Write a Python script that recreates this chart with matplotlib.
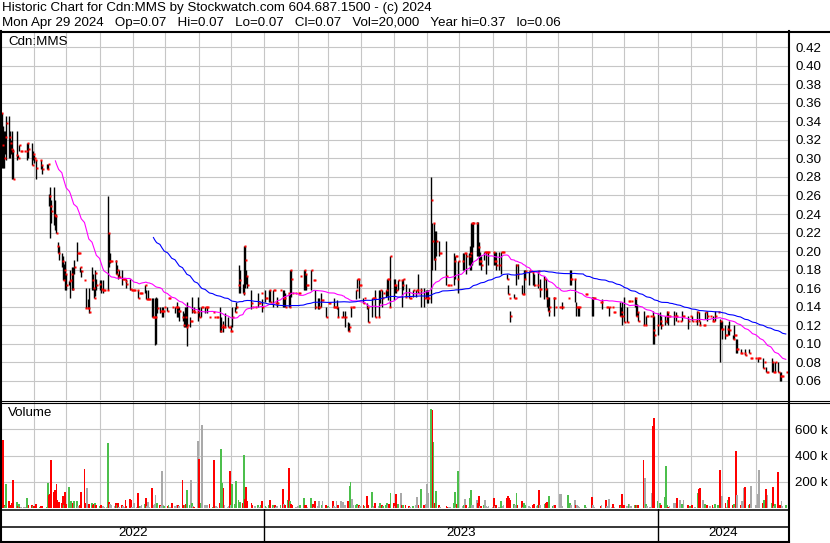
import numpy as np
import pandas as pd
import matplotlib
matplotlib.use('Agg')
import matplotlib.pyplot as plt
import matplotlib.dates as mdates

plt.rcParams['font.family'] = ['Liberation Sans', 'DejaVu Sans']

W, H = 830, 543

# trading days, May 2 2022 .. Apr 29 2024
dates = pd.bdate_range('2022-05-02', periods=521)

# prices in thousandths of a dollar, 0 = no trade
close_m = [
    349, 314, 300, 323, 338, 323, 317, 310, 308, 278,
    304, 300, 314, 308, 308, 308, 0, 308, 317, 310,
    293, 305, 300, 298, 290, 0, 298, 293, 288, 0,
    289, 294, 259, 249, 243, 239, 238, 219, 205, 198,
    189, 169, 180, 175, 163, 168, 169, 175, 159, 183,
    198, 198, 198, 183, 179, 169, 139, 139, 139, 134,
    169, 160, 149, 176, 164, 165, 159, 158, 158, 158,
    158, 219, 189, 189, 189, 189, 175, 180, 172, 172,
    170, 170, 170, 168, 165, 159, 158, 158, 158, 158,
    158, 149, 155, 155, 155, 163, 148, 148, 148, 148,
    129, 129, 129, 129, 139, 135, 135, 135, 135, 140,
    135, 149, 149, 0, 140, 140, 140, 140, 135, 135,
    129, 120, 129, 118, 120, 125, 125, 135, 135, 134,
    134, 129, 0, 140, 140, 140, 140, 140, 0, 129,
    134, 129, 0, 129, 129, 114, 118, 120, 118, 118,
    118, 118, 114, 114, 129, 134, 140, 0, 164, 169,
    155, 205, 190, 173, 164, 0, 144, 140, 0, 140,
    144, 144, 0, 155, 140, 149, 149, 0, 158, 145,
    158, 158, 144, 144, 144, 158, 0, 149, 149, 140,
    155, 140, 180, 170, 155, 155, 0, 155, 155, 173,
    0, 180, 175, 164, 164, 180, 0, 169, 169, 140,
    140, 140, 0, 147, 147, 129, 0, 144, 144, 0,
    140, 140, 140, 140, 129, 129, 0, 129, 0, 129,
    114, 118, 140, 140, 140, 158, 170, 170, 164, 164,
    144, 149, 0, 140, 124, 0, 149, 149, 149, 129,
    129, 158, 0, 149, 155, 158, 170, 170, 140, 195,
    164, 164, 158, 0, 169, 169, 164, 170, 0, 151,
    149, 149, 0, 0, 158, 158, 158, 155, 0, 158,
    149, 0, 149, 149, 149, 255, 211, 230, 191, 211,
    198, 198, 0, 0, 0, 173, 164, 164, 164, 0,
    189, 195, 195, 170, 189, 0, 189, 198, 198, 195,
    195, 198, 230, 230, 230, 230, 204, 189, 189, 185,
    199, 199, 199, 199, 199, 0, 199, 189, 189, 185,
    185, 0, 199, 199, 199, 170, 154, 149, 130, 0,
    149, 149, 185, 175, 0, 154, 154, 170, 179, 0,
    179, 179, 0, 177, 164, 164, 179, 159, 159, 0,
    170, 159, 149, 135, 140, 0, 149, 149, 140, 0,
    140, 140, 140, 0, 0, 0, 149, 0, 170, 170,
    170, 140, 140, 140, 140, 0, 0, 0, 154, 154,
    0, 0, 149, 149, 149, 0, 0, 0, 145, 145,
    0, 140, 140, 0, 140, 140, 134, 134, 0, 0,
    130, 134, 130, 0, 124, 124, 146, 146, 146, 0,
    149, 130, 134, 125, 0, 0, 120, 120, 130, 130,
    130, 0, 130, 115, 110, 120, 0, 125, 120, 0,
    125, 130, 134, 130, 130, 0, 130, 130, 130, 125,
    125, 0, 130, 130, 0, 125, 0, 130, 0, 125,
    125, 0, 134, 125, 120, 120, 120, 134, 0, 130,
    130, 0, 125, 125, 130, 134, 0, 125, 116, 116,
    110, 110, 116, 115, 0, 105, 110, 110, 94, 94,
    90, 90, 0, 90, 88, 0, 90, 85, 85, 0,
    85, 85, 85, 85, 0, 74, 80, 0, 70, 70,
    0, 80, 70, 70, 80, 70, 0, 65, 65, 65, 70,
]

# day high / low, 0 = same as close
high_m = [
    0, 335, 330, 330, 346, 346, 330, 320, 329, 310,
    329, 304, 0, 0, 0, 0, 0, 0, 0, 317,
    317, 308, 304, 0, 298, 0, 0, 298, 293, 0,
    294, 0, 262, 269, 255, 269, 255, 240, 210, 205,
    198, 195, 186, 189, 175, 0, 180, 183, 183, 190,
    210, 0, 0, 0, 180, 0, 160, 0, 148, 160,
    183, 175, 160, 180, 170, 169, 169, 0, 169, 0,
    0, 259, 219, 198, 0, 0, 190, 185, 175, 180,
    180, 0, 0, 0, 170, 170, 0, 0, 0, 0,
    0, 158, 0, 0, 0, 0, 158, 0, 158, 0,
    149, 149, 149, 151, 149, 140, 0, 140, 140, 0,
    140, 0, 0, 0, 0, 0, 0, 145, 140, 140,
    135, 133, 140, 140, 145, 129, 0, 151, 0, 140,
    151, 140, 0, 0, 0, 0, 0, 0, 0, 0,
    0, 0, 0, 0, 0, 140, 129, 0, 125, 133,
    129, 0, 0, 120, 140, 140, 145, 0, 185, 180,
    165, 0, 205, 180, 173, 0, 158, 0, 0, 0,
    155, 0, 0, 0, 148, 158, 0, 0, 0, 158,
    0, 0, 0, 0, 150, 0, 0, 158, 158, 155,
    0, 155, 0, 180, 0, 0, 0, 0, 0, 0,
    0, 0, 180, 175, 0, 0, 0, 0, 0, 158,
    149, 149, 0, 155, 0, 140, 0, 0, 0, 0,
    0, 149, 0, 147, 140, 0, 0, 135, 0, 135,
    124, 122, 0, 0, 0, 0, 0, 0, 170, 0,
    149, 0, 0, 144, 140, 0, 0, 0, 0, 158,
    158, 0, 0, 158, 0, 0, 0, 0, 0, 0,
    170, 170, 164, 0, 0, 0, 169, 0, 0, 165,
    160, 0, 0, 0, 0, 0, 0, 175, 0, 160,
    160, 0, 158, 158, 158, 280, 230, 0, 222, 222,
    211, 0, 0, 0, 0, 211, 0, 0, 0, 0,
    198, 0, 0, 0, 0, 0, 198, 0, 0, 198,
    198, 205, 0, 0, 231, 231, 231, 210, 199, 195,
    0, 0, 0, 0, 0, 0, 0, 199, 199, 199,
    199, 0, 0, 0, 0, 175, 164, 0, 135, 0,
    154, 0, 186, 186, 0, 164, 0, 180, 180, 0,
    0, 0, 0, 179, 175, 0, 0, 0, 170, 0,
    173, 170, 160, 150, 151, 0, 0, 151, 0, 0,
    0, 0, 145, 0, 0, 0, 0, 0, 180, 180,
    0, 145, 0, 0, 0, 0, 0, 0, 0, 0,
    0, 0, 151, 151, 0, 0, 0, 0, 0, 148,
    0, 0, 0, 0, 0, 0, 0, 0, 0, 0,
    145, 140, 145, 0, 150, 140, 0, 0, 0, 0,
    150, 148, 143, 134, 0, 0, 135, 0, 0, 0,
    0, 0, 0, 135, 130, 133, 0, 134, 130, 0,
    130, 0, 135, 134, 0, 0, 135, 0, 134, 0,
    0, 0, 135, 0, 0, 130, 0, 0, 0, 130,
    0, 0, 135, 134, 125, 0, 0, 0, 0, 135,
    0, 0, 130, 0, 135, 0, 0, 127, 125, 125,
    120, 0, 120, 125, 0, 110, 120, 0, 105, 105,
    94, 0, 0, 0, 94, 0, 95, 0, 0, 0,
    0, 0, 0, 0, 0, 85, 0, 0, 75, 0,
    0, 85, 80, 0, 0, 80, 0, 70, 70, 0, 0,
]

low_m = [
    290, 290, 290, 305, 298, 300, 300, 305, 278, 0,
    298, 0, 308, 0, 0, 0, 0, 0, 298, 300,
    0, 298, 295, 0, 278, 0, 0, 288, 283, 0,
    0, 289, 249, 214, 230, 228, 223, 0, 198, 190,
    183, 0, 169, 158, 158, 163, 149, 158, 158, 175,
    189, 0, 0, 178, 172, 0, 0, 0, 0, 133,
    158, 158, 0, 152, 158, 158, 155, 0, 155, 0,
    0, 158, 183, 187, 0, 0, 0, 175, 170, 0,
    163, 0, 0, 0, 160, 158, 0, 0, 0, 0,
    0, 0, 0, 0, 0, 155, 0, 0, 0, 0,
    0, 0, 99, 100, 133, 133, 0, 129, 129, 0,
    0, 0, 0, 0, 0, 133, 0, 129, 129, 125,
    125, 118, 118, 0, 98, 118, 0, 133, 0, 133,
    125, 0, 0, 129, 0, 133, 0, 133, 0, 0,
    0, 0, 0, 0, 0, 113, 113, 0, 113, 0,
    0, 0, 0, 0, 118, 0, 138, 0, 155, 155,
    0, 153, 160, 165, 160, 0, 138, 0, 0, 0,
    140, 0, 0, 0, 134, 145, 0, 0, 145, 0,
    140, 0, 0, 0, 140, 0, 0, 140, 140, 0,
    0, 0, 140, 150, 0, 0, 0, 0, 0, 0,
    0, 158, 158, 158, 0, 158, 0, 0, 0, 138,
    138, 138, 0, 140, 0, 0, 0, 0, 0, 0,
    0, 0, 0, 138, 0, 0, 0, 0, 0, 118,
    0, 114, 129, 0, 0, 148, 160, 0, 149, 0,
    0, 0, 0, 138, 0, 0, 129, 0, 0, 0,
    0, 144, 0, 140, 0, 151, 152, 147, 0, 140,
    147, 155, 155, 0, 158, 0, 140, 158, 0, 0,
    0, 0, 0, 0, 151, 151, 0, 0, 0, 140,
    140, 0, 0, 144, 144, 144, 180, 190, 180, 195,
    195, 0, 0, 0, 0, 164, 0, 0, 0, 0,
    164, 170, 0, 0, 155, 0, 180, 180, 0, 175,
    185, 180, 180, 185, 204, 195, 195, 185, 185, 180,
    190, 0, 175, 0, 185, 0, 0, 185, 185, 180,
    180, 0, 175, 0, 0, 0, 0, 0, 124, 0,
    0, 0, 164, 170, 0, 0, 0, 154, 170, 0,
    164, 0, 0, 164, 162, 0, 160, 0, 150, 0,
    148, 150, 140, 0, 130, 0, 0, 130, 0, 0,
    0, 0, 138, 0, 0, 0, 0, 0, 164, 164,
    145, 130, 0, 130, 130, 0, 0, 0, 0, 0,
    0, 0, 130, 130, 0, 0, 0, 0, 0, 138,
    0, 0, 0, 0, 130, 0, 0, 0, 0, 0,
    0, 130, 120, 0, 0, 0, 0, 0, 0, 0,
    140, 0, 130, 0, 0, 0, 0, 0, 120, 0,
    0, 0, 0, 100, 100, 110, 0, 120, 116, 0,
    120, 0, 123, 120, 0, 0, 120, 0, 125, 0,
    0, 0, 125, 0, 0, 116, 0, 0, 0, 0,
    0, 0, 120, 0, 0, 0, 0, 127, 0, 125,
    0, 0, 0, 0, 125, 0, 0, 80, 0, 105,
    105, 0, 110, 110, 0, 0, 105, 0, 90, 90,
    0, 0, 0, 0, 0, 0, 0, 0, 0, 0,
    0, 0, 80, 0, 0, 0, 0, 0, 0, 0,
    0, 70, 0, 0, 70, 0, 0, 60, 60, 0, 0,
]

# volume in thousands of shares
volume_k = [
    145, 520, 20, 15, 183, 56, 25, 18, 40, 214,
    43, 12, 30, 10, 8, 6, 0, 10, 76, 22,
    20, 15, 12, 10, 30, 0, 8, 14, 12, 0,
    10, 188, 100, 110, 366, 120, 140, 183, 60, 45,
    35, 95, 25, 120, 30, 158, 50, 55, 40, 55,
    50, 15, 10, 25, 120, 298, 40, 150, 20, 30,
    40, 25, 30, 35, 20, 15, 25, 10, 15, 8,
    5, 494, 45, 30, 20, 15, 40, 25, 35, 10,
    20, 12, 10, 60, 15, 70, 60, 10, 8, 40,
    10, 112, 15, 12, 20, 30, 80, 15, 45, 10,
    153, 20, 30, 102, 40, 25, 15, 280, 20, 15,
    12, 20, 10, 0, 40, 15, 10, 20, 25, 15,
    214, 20, 25, 30, 137, 20, 214, 35, 15, 10,
    509, 374, 0, 40, 634, 20, 15, 25, 0, 30,
    10, 366, 0, 15, 10, 40, 450, 188, 153, 20,
    10, 12, 280, 20, 183, 30, 204, 0, 60, 45,
    40, 405, 70, 158, 50, 0, 35, 20, 0, 15,
    25, 10, 0, 20, 50, 15, 10, 0, 20, 60,
    25, 10, 20, 10, 15, 20, 0, 145, 30, 25,
    60, 305, 55, 30, 25, 10, 0, 15, 10, 20,
    0, 75, 20, 25, 10, 75, 0, 30, 10, 55,
    15, 50, 0, 20, 50, 25, 0, 15, 10, 0,
    55, 15, 10, 50, 20, 50, 0, 45, 0, 20,
    55, 170, 196, 70, 20, 25, 30, 15, 20, 15,
    20, 15, 0, 95, 25, 0, 125, 10, 15, 40,
    15, 40, 0, 20, 15, 20, 35, 25, 30, 112,
    40, 15, 107, 0, 30, 115, 20, 25, 0, 20,
    15, 10, 0, 0, 18, 20, 87, 25, 0, 145,
    25, 0, 30, 183, 115, 756, 748, 501, 40, 132,
    20, 10, 0, 0, 0, 15, 8, 8, 10, 0,
    35, 125, 10, 30, 285, 0, 15, 20, 70, 25,
    10, 78, 137, 25, 20, 60, 40, 95, 12, 15,
    20, 60, 15, 10, 12, 0, 8, 75, 15, 20,
    10, 0, 55, 15, 20, 80, 95, 75, 60, 0,
    30, 20, 115, 25, 0, 56, 10, 35, 20, 0,
    15, 10, 0, 20, 30, 15, 20, 137, 25, 0,
    30, 40, 45, 20, 95, 0, 15, 20, 20, 0,
    107, 107, 15, 0, 0, 0, 100, 0, 40, 20,
    60, 25, 20, 15, 10, 0, 0, 0, 20, 10,
    0, 0, 87, 25, 10, 0, 0, 0, 15, 20,
    0, 60, 15, 0, 70, 10, 30, 10, 0, 0,
    20, 15, 107, 0, 25, 15, 30, 30, 15, 0,
    20, 25, 25, 20, 0, 0, 366, 229, 30, 15,
    10, 0, 115, 628, 687, 55, 0, 35, 20, 0,
    87, 323, 25, 10, 15, 0, 40, 20, 35, 76,
    60, 0, 30, 60, 0, 20, 0, 15, 0, 25,
    10, 0, 115, 145, 153, 60, 15, 30, 0, 20,
    15, 0, 20, 10, 30, 25, 0, 290, 20, 95,
    40, 10, 60, 87, 0, 25, 30, 10, 438, 102,
    20, 56, 0, 150, 158, 0, 20, 30, 170, 0,
    25, 15, 107, 290, 0, 40, 60, 0, 145, 102,
    0, 40, 158, 15, 30, 277, 0, 20, 50, 15, 20,
]

price_ticks = [0.06, 0.08, 0.10, 0.12, 0.14, 0.16, 0.18, 0.20, 0.22,
               0.24, 0.26, 0.28, 0.30, 0.32, 0.34, 0.36, 0.38, 0.40, 0.42]
vol_ticks = [200, 400, 600]
vol_labels = ['200 k', '400 k', '600 k']
years = [2022, 2023, 2024]

title1 = 'Historic Chart for Cdn:MMS by Stockwatch.com 604.687.1500 - (c) 2024'
title2 = ('Mon Apr 29 2024   Op=0.07   Hi=0.07   Lo=0.07   Cl=0.07   '
          'Vol=20,000   Year hi=0.37   lo=0.06')

# ---- prepare
close = np.array(close_m, dtype=float)
traded = close > 0
hi = np.where(np.array(high_m) == 0, close, high_m) / 1000.0
lo = np.where(np.array(low_m) == 0, close, low_m) / 1000.0
close = close / 1000.0
vol = np.array(volume_k, dtype=float)

cs = pd.Series(np.where(traded, close, np.nan)).ffill()
ma_short = cs.rolling(37).mean()
ma_long = cs.rolling(102).mean()
prev = cs.shift(1)

RED, GREEN, GRAY = '#ff0000', '#4cbf4c', '#a9a9a9'
vcol = np.where(close > prev, GREEN, np.where(close < prev, RED, GRAY))

x = mdates.date2num(dates)
x0 = mdates.date2num(pd.Timestamp('2022-05-02')) - 0.5
x1 = mdates.date2num(pd.Timestamp('2024-05-02'))

FS = 9.6


def box(l, t, r, b):
    return [l / W, 1 - b / H, (r - l) / W, (b - t) / H]


fig = plt.figure(figsize=(W / 100, H / 100), dpi=100)
GRID = '#c6c6c6'

# price panel
ax = fig.add_axes(box(1, 32, 789, 400))
ax.set_xlim(x0, x1)
ax.set_ylim(0.0395, 0.4362)
ax.xaxis.set_major_locator(mdates.MonthLocator())
ax.set_yticks(price_ticks)
ax.set_yticklabels(['%.2f' % t for t in price_ticks])
ax.yaxis.tick_right()
ax.tick_params(axis='y', length=0, pad=4.5, labelsize=FS)
ax.tick_params(axis='x', length=0, labelbottom=False)
ax.grid(True, color=GRID, lw=0.8)
ax.set_axisbelow(True)
for s in ax.spines.values():
    s.set_visible(False)

bar = traded & (hi > lo)
ax.vlines(x[bar], lo[bar], hi[bar], color='black', lw=1.0, zorder=3)
ax.plot(x[traded] + 0.8, close[traded], ls='none', marker='s', ms=1.6,
        mfc=RED, mec='none', zorder=4)
ax.plot(x, ma_short, color='#ff00ff', lw=0.8, zorder=5)
ax.plot(x, ma_long, color='#0000ff', lw=0.8, zorder=5)

# volume panel
av = fig.add_axes(box(1, 402, 789, 508))
av.set_xlim(x0, x1)
av.set_ylim(0, 810)
av.xaxis.set_major_locator(mdates.MonthLocator())
av.set_yticks(vol_ticks)
av.set_yticklabels(vol_labels)
av.yaxis.tick_right()
av.tick_params(axis='y', length=0, pad=4.5, labelsize=FS)
av.tick_params(axis='x', length=0, labelbottom=False)
av.grid(True, color=GRID, lw=0.8)
av.set_axisbelow(True)
for s in av.spines.values():
    s.set_visible(False)
m = vol > 0
av.bar(x[m], vol[m], width=1.7, color=vcol[m], linewidth=0, zorder=3)

# year strip
ay = fig.add_axes(box(1, 509, 789, 542))
ay.set_xlim(x0, x1)
ay.set_ylim(0, 1)
ay.axis('off')
for yr in years:
    a = max(x0, mdates.date2num(pd.Timestamp(f'{yr}-01-01')))
    b = min(x1, mdates.date2num(pd.Timestamp(f'{yr + 1}-01-01')))
    ay.text((a + b) / 2, 0.26, str(yr), ha='center', va='center', fontsize=FS)
    if yr > years[0]:
        ay.axvline(mdates.date2num(pd.Timestamp(f'{yr}-01-01')), color='black', lw=1)

# frame and labels in pixel coords
fr = fig.add_axes([0, 0, 1, 1], zorder=10)
fr.set_xlim(0, W)
fr.set_ylim(H, 0)
fr.axis('off')
fr.patch.set_visible(False)
k = 'black'
fr.plot([0, W], [31.5, 31.5], color=k, lw=1.5)
fr.plot([1, 1], [31, H], color=k, lw=1.5)
fr.plot([789, 789], [31, H], color=k, lw=1.5)
fr.plot([0, W], [400.5, 400.5], color=k, lw=0.8)
fr.plot([0, W], [402.5, 402.5], color=k, lw=0.8)
fr.plot([0, 789], [509.5, 509.5], color=k, lw=1.1)
fr.plot([0, 789], [526.5, 526.5], color=k, lw=1.1)
fr.plot([0, 789], [541.8, 541.8], color=k, lw=1.5)

fr.text(2, 8, title1, ha='left', va='center', fontsize=FS)
fr.text(2, 23, title2, ha='left', va='center', fontsize=FS)
fr.text(8, 42, 'Cdn:MMS', ha='left', va='center', fontsize=FS)
fr.text(8, 413, 'Volume', ha='left', va='center', fontsize=FS)

fig.savefig('out.png', dpi=100)
